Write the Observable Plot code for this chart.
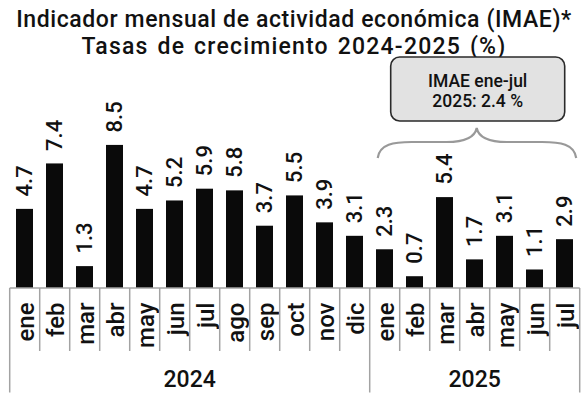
<!DOCTYPE html>
<html><head><meta charset="utf-8">
<script src="https://cdn.jsdelivr.net/npm/d3@7"></script>
<script src="https://cdn.jsdelivr.net/npm/@observablehq/plot@0.6"></script>
<style>
body{margin:0;background:#fff;width:588px;height:396px;overflow:hidden;font-family:Roboto,sans-serif;}
#title{box-sizing:border-box;height:52px;padding-top:5.6px;text-align:center;font-size:23px;font-weight:500;line-height:27px;color:#111;white-space:nowrap;}
#title div{height:27px;}
#t1{letter-spacing:0.6px;}
#t2{letter-spacing:1.2px;word-spacing:2px;}
#chart svg{display:block;overflow:visible;}
</style></head><body>
<div id="title"><div id="t1">Indicador mensual de actividad económica (IMAE)*</div><div id="t2">Tasas de crecimiento 2024-2025 (%)</div></div>
<div id="chart"></div>
<script>
const years = ["2024", "2025"];
const months2024 = ["ene","feb","mar","abr","may","jun","jul","ago","sep","oct","nov","dic"];
const values2024 = [4.7, 7.4, 1.3, 8.5, 4.7, 5.2, 5.9, 5.8, 3.7, 5.5, 3.9, 3.1];
const months2025 = ["ene","feb","mar","abr","may","jun","jul"];
const values2025 = [2.3, 0.7, 5.4, 1.7, 3.1, 1.1, 2.9];
const summaryLines = ["IMAE ene-jul", "2025: 2.4 %"];

const data = [
  ...months2024.map((m, i) => ({key: years[0] + "-" + m, year: years[0], month: m, value: values2024[i]})),
  ...months2025.map((m, i) => ({key: years[1] + "-" + m, year: years[1], month: m, value: values2025[i]}))
];
const domain = data.map(d => d.key);
const padIn = 0.42, padOut = 0.21;

const plot = Plot.plot({
  width: 588, height: 344,
  marginTop: 34, marginBottom: 108, marginLeft: 7, marginRight: 6,
  x: {type: "band", domain, paddingInner: padIn, paddingOuter: padOut, axis: null},
  y: {domain: [0, 12], axis: null},
  style: {fontFamily: "Roboto, sans-serif", background: "transparent", color: "#111"},
  marks: [
    Plot.barY(data, {x: "key", y: "value", fill: "#0a0a0a"}),
    Plot.text(data, {x: "key", y: "value", text: d => d.value.toFixed(1), rotate: -90,
      textAnchor: "start", lineAnchor: "middle", dy: -13, fontSize: 22, fontWeight: 500, fill: "#111"}),
    Plot.text(data, {x: "key", frameAnchor: "bottom", text: "month", rotate: -90,
      textAnchor: "end", lineAnchor: "middle", dy: 14, dx: 1.5, fontSize: 24, fontWeight: 500, fill: "#111"})
  ]
});
document.getElementById("chart").appendChild(plot);

const svg = d3.select(plot);
const xs = plot.scale("x"), ys = plot.scale("y");
const step = xs.step;
const edges = domain.map(k => xs.apply(k) - step * padIn / 2);
edges.push(edges[edges.length - 1] + step);
const base = ys.apply(0);
const g = svg.append("g").attr("stroke", "#a3a3a3").attr("stroke-width", 1.5);
g.append("line").attr("x1", edges[0]).attr("x2", edges[edges.length - 1]).attr("y1", base).attr("y2", base);
const yearStarts = [0, months2024.length, domain.length];
edges.forEach((x, i) => {
  const full = yearStarts.includes(i);
  g.append("line").attr("x1", x).attr("x2", x).attr("y1", base).attr("y2", base + (full ? 104.5 : 63));
});
// year labels
[[0, 12], [12, 19]].forEach(([a, b], j) => {
  svg.append("text").attr("x", (edges[a] + edges[b]) / 2).attr("y", base + 98.5)
    .attr("text-anchor", "middle").attr("font-size", 23).attr("font-weight", 500)
    .attr("fill", "#111").text(years[j]);
});
// annotation box and brace over 2025
const s0 = edges[12], s1 = edges[19], mid = (s0 + s1) / 2;
const bx0 = s0 + 21, bx1 = s1 - 15, by0 = 5, by1 = 69;
svg.append("rect").attr("x", bx0).attr("y", by0).attr("width", bx1 - bx0).attr("height", by1 - by0)
  .attr("rx", 9).attr("fill", "#e2e2e2").attr("stroke", "#2a2a2a").attr("stroke-width", 1.6);
summaryLines.forEach((t, i) => {
  svg.append("text").attr("x", (bx0 + bx1) / 2).attr("y", 34.7 + i * 20).attr("text-anchor", "middle")
    .attr("font-size", 17.5).attr("font-weight", 500).attr("fill", "#111").text(t);
});
const lx = s0 + 8, rx = s1 - 3.5, tip = mid + 2, hy = 90, ty = 76, ey = 106;
const brace = `M${lx},${ey} C${lx + 2},${hy + 2} ${lx + 16},${hy} ${lx + 34},${hy} L${tip - 30},${hy} C${tip - 12},${hy} ${tip - 2},${hy - 4} ${tip},${ty} C${tip + 2},${hy - 4} ${tip + 12},${hy} ${tip + 30},${hy} L${rx - 34},${hy} C${rx - 16},${hy} ${rx - 2},${hy + 2} ${rx},${ey}`;
svg.append("path").attr("d", brace).attr("fill", "none").attr("stroke", "#999").attr("stroke-width", 2.2);
</script>
</body></html>
